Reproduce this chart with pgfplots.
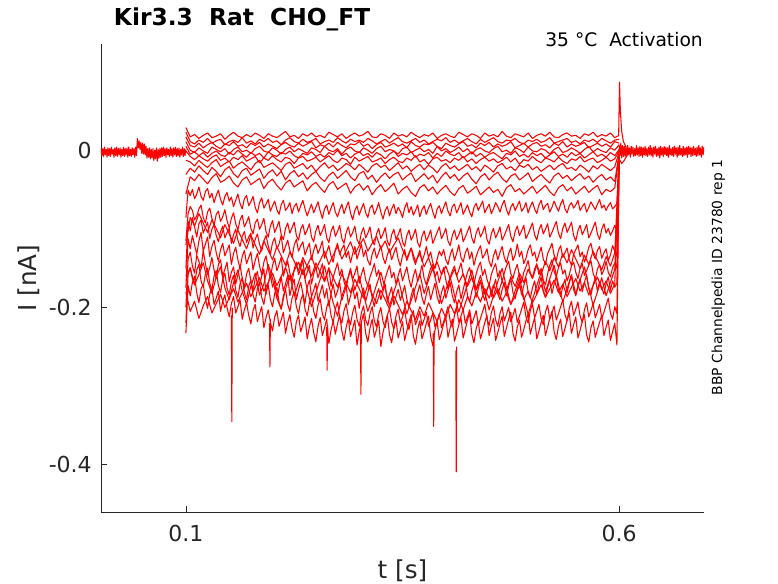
\documentclass[border=0pt]{standalone}
\usepackage{pgfplots}
\pgfplotsset{compat=1.18}
\usepackage{pgfplotstable}
\usepackage{fontspec}
\setmainfont{DejaVu Sans}
\definecolor{axgray}{RGB}{38,38,38}

% baseline before the step (t in ms, I in pA)
\pgfplotstableread{
t v
2 4
3 -6
4 3
5 -7
6 5
7 -5
8 2
9 -8
10 4
11 -6
12 3
13 -7
14 5
15 -4
16 2
17 -8
18 4
19 -6
20 5
21 -7
22 3
23 -5
24 4
25 -8
26 2
27 -6
28 5
29 -7
30 3
31 -5
32 4
33 -8
34 5
35 -6
36 2
37 -7
38 4
39 -5
40 3
41 -8
42 5
43 -6
44 16
45 4
46 13
47 2
48 11
49 -3
50 10
51 -4
52 9
53 -5
54 6
55 -9
56 3
57 -8
58 4
59 -10
60 2
61 -9
62 3
63 -12
64 1
65 -10
66 4
67 -13
68 2
69 -9
70 3
71 -8
72 4
73 -7
74 5
75 -6
76 3
77 -8
78 4
79 -5
80 2
81 -7
82 5
83 -6
84 3
85 -8
86 4
87 -5
88 5
89 -7
90 3
91 -6
92 4
93 -8
94 2
95 -5
96 5
97 -7
98 3
99 -6
100 2
}\prebase

% baseline after the step
\pgfplotstableread{
t v
600 8
601 -6
602 10
603 -9
604 7
605 -7
606 6
607 -7
608 5
609 -6
610 7
611 -5
612 4
613 -8
614 6
615 -4
616 5
617 -7
618 3
619 -6
620 7
621 -5
622 4
623 -7
624 6
625 -6
626 5
627 -8
628 4
629 -5
630 6
631 -6
632 3
633 -7
634 5
635 -5
636 7
637 -6
638 4
639 -8
640 5
641 -4
642 6
643 -7
644 3
645 -6
646 5
647 -9
648 6
649 -5
650 4
651 -7
652 6
653 -5
654 5
655 -6
656 4
657 -8
658 7
659 -5
660 3
661 -6
662 5
663 -7
664 6
665 -4
666 4
667 -8
668 5
669 -6
670 7
671 -5
672 3
673 -7
674 6
675 -6
676 4
677 -5
678 5
679 -8
680 6
681 -4
682 5
683 -7
684 4
685 -6
686 6
687 -5
688 3
689 -7
690 5
691 -6
692 7
693 -5
694 4
695 -8
696 6
697 -5
698 5
}\postbase

\begin{document}
\begin{tikzpicture}[tr/.style={red, line width=0.8pt, line join=round, mark=none}]
\path[use as bounding box] (-75.75pt,-53.25pt) rectangle (507.75pt,384pt);
\begin{axis}[
  at={(0pt,0pt)}, anchor=south west,
  scale only axis, width=452.25pt, height=351pt,
  xmin=0.002, xmax=0.698, ymin=-0.4613, ymax=0.1367,
  axis x line*=bottom, axis y line*=left,
  axis line style={draw=axgray, line width=0.5pt, -},
  xtick={0.1,0.6}, xticklabels={0.1,0.6},
  ytick={-0.4,-0.2,0}, yticklabels={-0.4,-0.2,0\hspace{1.05em}},
  tick align=inside, major tick length=4.5pt,
  tick style={draw=axgray, line width=0.5pt},
  xticklabel style={font=\fontsize{16.5}{18}\selectfont, text=axgray, inner sep=0pt, anchor=north, yshift=-9.75pt},
  yticklabel style={font=\fontsize{16.5}{18}\selectfont, text=axgray, inner sep=0pt, anchor=east, xshift=-6.75pt},
]
\addplot[tr] table[x expr=\thisrow{t}*0.001, y expr=\thisrow{v}*0.001]{\prebase};
\addplot[tr] table[x expr=\thisrow{t}*0.001, y expr=\thisrow{v}*0.001]{\postbase};
% shallow sweeps, sampled every 5 ms from t = 0.1 s (pA)
\addplot[tr] table[row sep=\\, header=false, x expr={0.1+0.005*\coordindex}, y expr={0.001*\thisrowno{0}}]{
30\\
18\\21\\16\\20\\23\\17\\19\\22\\15\\20\\
24\\19\\17\\21\\18\\23\\20\\16\\22\\19\\
17\\21\\25\\18\\20\\16\\22\\19\\23\\18\\
20\\17\\24\\21\\18\\22\\16\\20\\23\\19\\
21\\25\\18\\17\\22\\20\\16\\23\\19\\21\\
18\\24\\20\\17\\21\\19\\23\\16\\20\\22\\
19\\17\\24\\21\\18\\22\\20\\16\\23\\19\\
21\\18\\25\\19\\17\\22\\20\\18\\23\\16\\
20\\22\\19\\24\\18\\17\\21\\23\\19\\20\\
16\\22\\20\\24\\18\\21\\19\\23\\17\\20\\
};
\addplot[tr] table[row sep=\\, header=false, x expr={0.1+0.005*\coordindex}, y expr={0.001*\thisrowno{0}}]{
24\\
12\\9\\14\\11\\16\\10\\13\\15\\8\\12\\
14\\11\\17\\10\\13\\9\\15\\12\\16\\11\\
13\\8\\14\\17\\12\\10\\15\\11\\13\\16\\
9\\12\\14\\11\\17\\13\\10\\15\\12\\14\\
11\\16\\13\\9\\12\\15\\10\\14\\17\\12\\
10\\13\\16\\11\\14\\9\\12\\15\\13\\17\\
11\\14\\10\\13\\16\\12\\9\\15\\11\\14\\
17\\12\\10\\14\\13\\16\\11\\9\\14\\12\\
15\\11\\13\\17\\10\\12\\14\\16\\11\\13\\
9\\14\\12\\15\\11\\16\\13\\10\\14\\15\\
};
\addplot[tr] table[row sep=\\, header=false, x expr={0.1+0.005*\coordindex}, y expr={0.001*\thisrowno{0}}]{
18\\
7\\5\\10\\4\\8\\11\\6\\3\\9\\7\\
12\\6\\8\\4\\10\\7\\11\\5\\9\\6\\
3\\8\\11\\7\\5\\10\\6\\9\\12\\4\\
8\\6\\10\\5\\11\\7\\4\\9\\8\\12\\
6\\9\\3\\8\\11\\5\\7\\10\\6\\9\\
4\\12\\7\\5\\9\\8\\11\\6\\3\\10\\
7\\5\\9\\12\\6\\8\\4\\10\\7\\11\\
5\\9\\6\\8\\12\\4\\7\\10\\5\\9\\
11\\6\\8\\4\\10\\7\\12\\5\\9\\6\\
8\\11\\4\\7\\10\\6\\9\\5\\12\\10\\
};
\addplot[tr] table[row sep=\\, header=false, x expr={0.1+0.005*\coordindex}, y expr={0.001*\thisrowno{0}}]{
12\\
1\\-2\\4\\0\\-3\\5\\2\\-1\\3\\-4\\
2\\5\\-1\\1\\-3\\3\\6\\0\\-2\\4\\
1\\-4\\2\\5\\-1\\3\\0\\-3\\4\\2\\
-2\\6\\1\\-1\\3\\-4\\2\\5\\0\\-2\\
4\\1\\-3\\3\\6\\-1\\2\\0\\-4\\3\\
5\\-2\\1\\4\\-1\\2\\-3\\6\\0\\3\\
-2\\1\\5\\-1\\3\\-4\\2\\4\\0\\-2\\
3\\6\\-1\\1\\-3\\4\\2\\-2\\5\\0\\
-1\\3\\1\\-4\\2\\5\\-2\\0\\4\\1\\
-3\\2\\6\\-1\\3\\0\\-2\\4\\1\\8\\
};
\addplot[tr] table[row sep=\\, header=false, x expr={0.1+0.005*\coordindex}, y expr={0.001*\thisrowno{0}}]{
6\\
-4\\-1\\-6\\-2\\-8\\-3\\0\\-5\\-7\\-2\\
-5\\1\\-4\\-8\\-2\\-6\\-3\\-9\\-1\\-5\\
-7\\-2\\-4\\0\\-6\\-9\\-3\\-5\\-1\\-7\\
-4\\-8\\-2\\-5\\1\\-6\\-3\\-9\\-4\\-1\\
-6\\-3\\-8\\-2\\-5\\-10\\-4\\0\\-7\\-3\\
-5\\-1\\-8\\-4\\-6\\-2\\-9\\-3\\-7\\0\\
-4\\-6\\-2\\-9\\-5\\-1\\-7\\-3\\-8\\-4\\
-2\\-6\\-10\\-3\\-5\\0\\-7\\-4\\-8\\-2\\
-6\\-3\\-9\\-5\\-1\\-7\\-4\\-8\\-2\\-6\\
-3\\-9\\-5\\-1\\-7\\-4\\-8\\-2\\-6\\2\\
};
\addplot[tr] table[row sep=\\, header=false, x expr={0.1+0.005*\coordindex}, y expr={0.001*\thisrowno{0}}]{
0\\
-7\\-11\\-6\\-10\\-13\\-8\\-5\\-12\\-9\\-14\\
-8\\-11\\-6\\-13\\-10\\-7\\-15\\-9\\-12\\-6\\
-11\\-14\\-8\\-10\\-16\\-9\\-7\\-13\\-11\\-8\\
-14\\-10\\-6\\-12\\-15\\-9\\-11\\-17\\-8\\-13\\
-10\\-7\\-14\\-12\\-9\\-16\\-11\\-8\\-13\\-15\\
-9\\-12\\-6\\-14\\-11\\-17\\-10\\-8\\-13\\-11\\
-15\\-9\\-12\\-7\\-14\\-10\\-16\\-11\\-8\\-13\\
-10\\-15\\-12\\-8\\-14\\-9\\-17\\-11\\-13\\-7\\
-12\\-15\\-9\\-11\\-14\\-8\\-13\\-16\\-10\\-12\\
-7\\-14\\-11\\-9\\-15\\-12\\-8\\-13\\-10\\0\\
};
\addplot[tr] table[row sep=\\, header=false, x expr={0.1+0.005*\coordindex}, y expr={0.001*\thisrowno{0}}]{
-12\\
-14\\-19\\-12\\-17\\-21\\-15\\-11\\-20\\-16\\-13\\
-22\\-17\\-14\\-19\\-24\\-16\\-12\\-21\\-18\\-15\\
-20\\-25\\-17\\-14\\-22\\-19\\-16\\-23\\-18\\-26\\
-20\\-15\\-22\\-18\\-25\\-21\\-16\\-19\\-24\\-17\\
-22\\-27\\-19\\-16\\-21\\-18\\-25\\-20\\-15\\-23\\
-19\\-26\\-21\\-17\\-24\\-18\\-22\\-28\\-20\\-16\\
-23\\-19\\-25\\-21\\-17\\-24\\-20\\-26\\-18\\-22\\
-27\\-19\\-16\\-23\\-20\\-25\\-18\\-21\\-17\\-24\\
-20\\-26\\-22\\-18\\-24\\-19\\-16\\-23\\-21\\-25\\
-18\\-22\\-27\\-19\\-23\\-17\\-21\\-25\\-20\\-2\\
};
\addplot[tr] table[row sep=\\, header=false, x expr={0.1+0.005*\coordindex}, y expr={0.001*\thisrowno{0}}]{
-30\\
-22\\-27\\-19\\-25\\-30\\-21\\-26\\-33\\-24\\-20\\
-29\\-34\\-25\\-22\\-31\\-27\\-23\\-35\\-28\\-24\\
-32\\-26\\-37\\-29\\-25\\-33\\-28\\-36\\-30\\-26\\
-34\\-39\\-31\\-27\\-35\\-30\\-25\\-33\\-38\\-29\\
-26\\-36\\-31\\-40\\-33\\-28\\-35\\-30\\-27\\-37\\
-32\\-28\\-39\\-34\\-29\\-36\\-31\\-41\\-33\\-27\\
-35\\-30\\-38\\-32\\-28\\-36\\-42\\-33\\-29\\-37\\
-31\\-27\\-35\\-40\\-32\\-29\\-37\\-33\\-28\\-39\\
-34\\-30\\-36\\-41\\-32\\-28\\-35\\-31\\-38\\-33\\
-29\\-36\\-32\\-40\\-34\\-30\\-37\\-33\\-39\\-4\\
};
\addplot[tr] table[row sep=\\, header=false, x expr={0.1+0.005*\coordindex}, y expr={0.001*\thisrowno{0}}]{
-55\\
-33\\-38\\-30\\-36\\-42\\-34\\-29\\-40\\-37\\-32\\
-41\\-46\\-37\\-33\\-43\\-39\\-35\\-48\\-40\\-36\\
-44\\-50\\-41\\-37\\-46\\-42\\-38\\-51\\-44\\-40\\
-47\\-53\\-43\\-39\\-49\\-45\\-41\\-54\\-46\\-42\\
-50\\-44\\-56\\-48\\-43\\-52\\-47\\-41\\-55\\-49\\
-45\\-53\\-58\\-47\\-43\\-51\\-46\\-55\\-49\\-44\\
-52\\-57\\-48\\-44\\-54\\-50\\-45\\-56\\-51\\-46\\
-53\\-49\\-58\\-47\\-43\\-52\\-48\\-55\\-50\\-45\\
-54\\-49\\-44\\-52\\-57\\-47\\-43\\-51\\-46\\-55\\
-50\\-45\\-53\\-48\\-44\\-56\\-49\\-52\\-47\\-5\\
};
% sweeps that wander strongly, sampled every 5 ms (pA)
\addplot[tr] table[row sep=\\, header=false, x expr={0.1+0.005*\coordindex}, y expr={0.001*\thisrowno{0}}]{
-180\\
-205\\-192\\-214\\-198\\-186\\-207\\-195\\-183\\-200\\-188\\
-176\\-193\\-181\\-169\\-186\\-174\\-162\\-179\\-168\\-156\\
-172\\-160\\-149\\-165\\-153\\-142\\-158\\-146\\-135\\-151\\
-140\\-128\\-145\\-133\\-122\\-138\\-127\\-116\\-132\\-121\\
-112\\-128\\-118\\-109\\-125\\-115\\-130\\-120\\-111\\-126\\
-137\\-124\\-141\\-131\\-148\\-136\\-153\\-142\\-158\\-147\\
-163\\-151\\-168\\-157\\-173\\-161\\-178\\-166\\-183\\-171\\
-188\\-176\\-192\\-181\\-196\\-185\\-172\\-190\\-179\\-194\\
-183\\-171\\-187\\-176\\-165\\-181\\-170\\-186\\-174\\-163\\
-179\\-168\\-184\\-172\\-161\\-177\\-166\\-182\\-170\\-6\\
};
\addplot[tr] table[row sep=\\, header=false, x expr={0.1+0.005*\coordindex}, y expr={0.001*\thisrowno{0}}]{
-120\\
-85\\-96\\-80\\-92\\-104\\-88\\-99\\-111\\-94\\-106\\
-118\\-101\\-113\\-125\\-108\\-120\\-132\\-115\\-127\\-139\\
-122\\-134\\-146\\-129\\-141\\-153\\-136\\-148\\-160\\-143\\
-155\\-167\\-150\\-162\\-174\\-157\\-169\\-181\\-164\\-176\\
-188\\-171\\-183\\-195\\-178\\-190\\-202\\-185\\-197\\-209\\
-192\\-204\\-216\\-199\\-211\\-194\\-206\\-218\\-201\\-213\\
-196\\-208\\-190\\-203\\-186\\-198\\-181\\-193\\-176\\-188\\
-171\\-183\\-166\\-178\\-161\\-173\\-156\\-168\\-151\\-163\\
-146\\-158\\-141\\-153\\-136\\-148\\-131\\-143\\-126\\-138\\
-150\\-133\\-145\\-128\\-140\\-152\\-135\\-147\\-130\\-8\\
};
\addplot[tr] table[row sep=\\, header=false, x expr={0.1+0.005*\coordindex}, y expr={0.001*\thisrowno{0}}]{
-160\\
-150\\-171\\-158\\-143\\-166\\-182\\-161\\-148\\-175\\-190\\
-168\\-152\\-179\\-196\\-173\\-156\\-184\\-170\\-145\\-163\\
-188\\-202\\-176\\-159\\-185\\-168\\-151\\-177\\-199\\-181\\
-164\\-147\\-172\\-194\\-211\\-186\\-169\\-153\\-178\\-160\\
-183\\-205\\-189\\-171\\-155\\-176\\-198\\-180\\-163\\-186\\
-208\\-191\\-174\\-157\\-182\\-165\\-149\\-173\\-195\\-178\\
-161\\-184\\-206\\-188\\-170\\-152\\-177\\-159\\-181\\-203\\
-185\\-167\\-150\\-174\\-196\\-179\\-162\\-187\\-209\\-190\\
-172\\-155\\-180\\-163\\-146\\-171\\-193\\-176\\-158\\-183\\
-165\\-148\\-174\\-197\\-180\\-162\\-185\\-168\\-151\\-10\\
};
% deeper sweeps, sampled every 2.5 ms from t = 0.1 s (pA)
\addplot[tr] table[row sep=\\, header=false, x expr={0.1+0.0025*\coordindex}, y expr={0.001*\thisrowno{0}}]{
-85\\
-50\\-57\\-49\\-61\\-55\\-46\\-58\\-63\\-52\\-48\\
-60\\-54\\-66\\-57\\-50\\-62\\-69\\-58\\-53\\-64\\
-59\\-71\\-63\\-55\\-67\\-74\\-61\\-57\\-70\\-65\\
-58\\-72\\-79\\-66\\-60\\-73\\-68\\-62\\-77\\-70\\
-64\\-75\\-81\\-69\\-63\\-76\\-72\\-66\\-80\\-71\\
-67\\-78\\-70\\-63\\-74\\-83\\-75\\-68\\-79\\-72\\
-65\\-77\\-86\\-74\\-69\\-81\\-73\\-66\\-78\\-84\\
-75\\-68\\-80\\-72\\-65\\-79\\-88\\-76\\-70\\-82\\
-74\\-67\\-79\\-85\\-73\\-69\\-81\\-75\\-66\\-78\\
-87\\-76\\-71\\-83\\-74\\-68\\-80\\-72\\-77\\-85\\
-73\\-66\\-79\\-71\\-82\\-76\\-69\\-84\\-75\\-70\\
-81\\-73\\-67\\-78\\-86\\-74\\-70\\-80\\-72\\-65\\
-77\\-83\\-71\\-68\\-79\\-73\\-66\\-81\\-75\\-69\\
-78\\-84\\-72\\-67\\-76\\-70\\-64\\-79\\-73\\-68\\
-80\\-74\\-66\\-71\\-78\\-69\\-63\\-75\\-82\\-72\\
-67\\-76\\-70\\-64\\-77\\-73\\-66\\-79\\-71\\-65\\
-74\\-80\\-69\\-63\\-75\\-70\\-67\\-78\\-72\\-64\\
-71\\-77\\-68\\-62\\-74\\-79\\-70\\-66\\-73\\-69\\
-63\\-76\\-71\\-67\\-78\\-72\\-65\\-70\\-75\\-68\\
-62\\-73\\-69\\-76\\-70\\-66\\-74\\-71\\-67\\-5\\
};
\addplot[tr] table[row sep=\\, header=false, x expr={0.1+0.0025*\coordindex}, y expr={0.001*\thisrowno{0}}]{
-115\\
-80\\-71\\-76\\-88\\-83\\-74\\-69\\-85\\-92\\-78\\
-73\\-86\\-95\\-81\\-77\\-90\\-84\\-75\\-89\\-98\\
-86\\-79\\-93\\-101\\-88\\-82\\-97\\-91\\-84\\-99\\
-106\\-92\\-87\\-100\\-94\\-86\\-103\\-110\\-96\\-89\\
-104\\-97\\-90\\-107\\-113\\-99\\-92\\-105\\-98\\-91\\
-108\\-114\\-100\\-94\\-107\\-101\\-93\\-110\\-116\\-102\\
-95\\-108\\-102\\-94\\-111\\-117\\-103\\-96\\-109\\-103\\
-95\\-112\\-118\\-104\\-97\\-110\\-104\\-96\\-113\\-119\\
-105\\-98\\-111\\-105\\-97\\-114\\-120\\-106\\-99\\-112\\
-106\\-98\\-115\\-121\\-107\\-100\\-113\\-107\\-99\\-116\\
-122\\-108\\-101\\-114\\-108\\-100\\-117\\-123\\-109\\-102\\
-115\\-109\\-101\\-118\\-111\\-104\\-97\\-112\\-106\\-99\\
-115\\-121\\-108\\-101\\-113\\-107\\-99\\-116\\-110\\-103\\
-96\\-111\\-118\\-105\\-98\\-110\\-104\\-96\\-113\\-119\\
-106\\-99\\-111\\-105\\-97\\-114\\-108\\-101\\-94\\-109\\
-116\\-103\\-96\\-108\\-102\\-95\\-112\\-106\\-99\\-92\\
-107\\-114\\-101\\-94\\-106\\-100\\-93\\-110\\-104\\-97\\
-90\\-105\\-112\\-99\\-92\\-104\\-98\\-91\\-108\\-115\\
-102\\-95\\-107\\-101\\-94\\-111\\-105\\-98\\-91\\-106\\
-113\\-100\\-93\\-105\\-99\\-108\\-102\\-95\\-104\\-5\\
};
\addplot[tr] table[row sep=\\, header=false, x expr={0.1+0.0025*\coordindex}, y expr={0.001*\thisrowno{0}}]{
-150\\
-90\\-102\\-85\\-97\\-110\\-93\\-88\\-105\\-98\\-91\\
-112\\-100\\-94\\-108\\-116\\-103\\-96\\-111\\-104\\-99\\
-118\\-107\\-100\\-114\\-122\\-109\\-103\\-117\\-110\\-105\\
-124\\-113\\-106\\-119\\-128\\-115\\-108\\-121\\-132\\-117\\
-111\\-125\\-119\\-108\\-130\\-122\\-114\\-127\\-136\\-120\\
-113\\-128\\-121\\-116\\-133\\-125\\-118\\-139\\-127\\-119\\
-131\\-124\\-115\\-137\\-129\\-121\\-134\\-142\\-126\\-118\\
-132\\-125\\-120\\-136\\-128\\-143\\-131\\-122\\-138\\-129\\
-119\\-135\\-127\\-140\\-146\\-132\\-124\\-137\\-130\\-121\\
-136\\-144\\-133\\-125\\-139\\-131\\-123\\-138\\-147\\-134\\
-126\\-140\\-132\\-124\\-137\\-145\\-135\\-127\\-141\\-133\\
-122\\-136\\-129\\-143\\-150\\-138\\-128\\-134\\-126\\-139\\
-145\\-133\\-125\\-140\\-131\\-120\\-136\\-142\\-130\\-124\\
-138\\-129\\-146\\-135\\-127\\-121\\-137\\-132\\-125\\-141\\
-148\\-134\\-126\\-139\\-130\\-122\\-136\\-143\\-131\\-124\\
-140\\-133\\-119\\-135\\-128\\-144\\-137\\-126\\-120\\-134\\
-129\\-141\\-132\\-123\\-138\\-145\\-131\\-125\\-118\\-133\\
-140\\-127\\-121\\-136\\-130\\-124\\-139\\-146\\-132\\-126\\
-120\\-135\\-129\\-142\\-134\\-123\\-118\\-131\\-138\\-127\\
-122\\-137\\-130\\-125\\-140\\-133\\-121\\-128\\-135\\-8\\
};
\addplot[tr] table[row sep=\\, header=false, x expr={0.1+0.0025*\coordindex}, y expr={0.001*\thisrowno{0}}]{
-175\\
-112\\-125\\-108\\-120\\-132\\-115\\-104\\-128\\-119\\-110\\
-135\\-122\\-114\\-130\\-141\\-126\\-118\\-134\\-127\\-120\\
-145\\-131\\-123\\-139\\-150\\-135\\-127\\-144\\-136\\-129\\
-152\\-140\\-131\\-147\\-158\\-142\\-134\\-150\\-162\\-146\\
-137\\-153\\-145\\-136\\-160\\-149\\-141\\-156\\-168\\-151\\
-142\\-158\\-150\\-139\\-163\\-155\\-146\\-170\\-157\\-148\\
-162\\-153\\-144\\-166\\-158\\-149\\-173\\-161\\-152\\-143\\
-159\\-151\\-167\\-176\\-160\\-150\\-164\\-156\\-147\\-169\\
-158\\-149\\-165\\-172\\-161\\-153\\-144\\-160\\-152\\-168\\
-178\\-163\\-154\\-146\\-162\\-155\\-170\\-159\\-150\\-166\\
-157\\-148\\-164\\-174\\-160\\-151\\-167\\-158\\-146\\-163\\
-171\\-159\\-150\\-145\\-161\\-154\\-168\\-157\\-149\\-165\\
-176\\-162\\-153\\-147\\-160\\-152\\-143\\-158\\-166\\-155\\
-149\\-163\\-170\\-157\\-148\\-142\\-159\\-151\\-164\\-172\\
-158\\-150\\-144\\-161\\-153\\-167\\-156\\-147\\-141\\-157\\
-163\\-152\\-145\\-160\\-168\\-155\\-148\\-140\\-156\\-162\\
-151\\-144\\-158\\-150\\-165\\-171\\-157\\-146\\-139\\-154\\
-161\\-149\\-143\\-157\\-152\\-166\\-158\\-147\\-142\\-155\\
-163\\-150\\-144\\-159\\-153\\-146\\-140\\-156\\-164\\-151\\
-145\\-158\\-152\\-141\\-155\\-161\\-149\\-143\\-150\\-10\\
};
\addplot[tr] table[row sep=\\, header=false, x expr={0.1+0.0025*\coordindex}, y expr={0.001*\thisrowno{0}}]{
-200\\
-138\\-129\\-147\\-156\\-133\\-141\\-150\\-127\\-144\\-158\\
-149\\-136\\-152\\-163\\-145\\-139\\-160\\-151\\-142\\-167\\
-155\\-148\\-170\\-158\\-146\\-162\\-175\\-157\\-150\\-166\\
-178\\-163\\-154\\-172\\-160\\-151\\-183\\-169\\-158\\-174\\
-166\\-188\\-175\\-161\\-179\\-170\\-159\\-185\\-172\\-164\\
-190\\-177\\-168\\-182\\-195\\-174\\-165\\-186\\-178\\-169\\
-192\\-181\\-171\\-188\\-176\\-198\\-183\\-170\\-187\\-179\\
-168\\-191\\-182\\-173\\-196\\-185\\-174\\-189\\-180\\-201\\
-186\\-175\\-192\\-181\\-170\\-188\\-199\\-184\\-176\\-190\\
-179\\-170\\-193\\-183\\-174\\-197\\-186\\-177\\-191\\-182\\
-172\\-189\\-200\\-185\\-175\\-193\\-181\\-171\\-187\\-196\\
-183\\-173\\-190\\-179\\-169\\-186\\-195\\-181\\-172\\-188\\
-178\\-168\\-185\\-194\\-180\\-171\\-189\\-177\\-166\\-184\\
-193\\-179\\-170\\-187\\-176\\-165\\-183\\-191\\-178\\-169\\
-186\\-174\\-164\\-182\\-190\\-177\\-168\\-185\\-173\\-163\\
-181\\-189\\-176\\-167\\-184\\-172\\-162\\-180\\-188\\-175\\
-166\\-183\\-171\\-161\\-179\\-187\\-174\\-165\\-182\\-170\\
-160\\-178\\-186\\-173\\-164\\-181\\-169\\-159\\-177\\-185\\
-172\\-163\\-180\\-168\\-158\\-176\\-184\\-171\\-162\\-179\\
-167\\-175\\-183\\-170\\-161\\-178\\-166\\-174\\-169\\-12\\
};
\addplot[tr] table[row sep=\\, header=false, x expr={0.1+0.0025*\coordindex}, y expr={0.001*\thisrowno{0}}]{
-220\\
-158\\-149\\-163\\-171\\-152\\-145\\-166\\-174\\-157\\-150\\
-169\\-178\\-160\\-153\\-172\\-181\\-164\\-156\\-175\\-184\\
-167\\-159\\-178\\-187\\-170\\-162\\-181\\-190\\-173\\-165\\
-184\\-193\\-176\\-168\\-187\\-196\\-179\\-171\\-190\\-199\\
-182\\-174\\-193\\-202\\-185\\-177\\-196\\-205\\-188\\-180\\
-199\\-208\\-191\\-183\\-202\\-211\\-194\\-186\\-205\\-214\\
-197\\-189\\-208\\-216\\-200\\-191\\-210\\-219\\-202\\-193\\
-212\\-220\\-204\\-195\\-213\\-222\\-206\\-197\\-215\\-224\\
-207\\-198\\-216\\-223\\-208\\-199\\-217\\-225\\-209\\-200\\
-218\\-226\\-210\\-201\\-219\\-227\\-211\\-202\\-220\\-212\\
-203\\-221\\-228\\-213\\-204\\-222\\-214\\-205\\-223\\-215\\
-206\\-224\\-216\\-207\\-225\\-217\\-208\\-226\\-218\\-209\\
-199\\-217\\-225\\-210\\-201\\-219\\-211\\-202\\-220\\-212\\
-203\\-221\\-213\\-204\\-222\\-214\\-205\\-196\\-215\\-223\\
-207\\-198\\-216\\-224\\-208\\-199\\-217\\-209\\-200\\-218\\
-210\\-201\\-219\\-211\\-202\\-193\\-212\\-220\\-204\\-195\\
-213\\-205\\-196\\-214\\-222\\-206\\-197\\-215\\-207\\-198\\
-216\\-208\\-199\\-190\\-209\\-217\\-201\\-192\\-210\\-202\\
-193\\-211\\-219\\-203\\-194\\-212\\-204\\-195\\-213\\-205\\
-196\\-214\\-206\\-197\\-188\\-207\\-215\\-199\\-208\\-15\\
};
\addplot[tr] table[row sep=\\, header=false, x expr={0.1+0.0025*\coordindex}, y expr={0.001*\thisrowno{0}}]{
-233\\
-172\\-185\\-168\\-160\\-181\\-194\\-176\\-170\\-189\\-201\\
-183\\-175\\-196\\-188\\-179\\-205\\-192\\-184\\-200\\-212\\
-195\\-186\\-207\\-199\\-190\\-215\\-203\\-194\\-210\\-221\\
-204\\-196\\-218\\-208\\-199\\-226\\-213\\-203\\-219\\-230\\
-212\\-204\\-224\\-216\\-206\\-233\\-219\\-209\\-227\\-238\\
-218\\-210\\-231\\-222\\-212\\-240\\-225\\-214\\-232\\-244\\
-224\\-213\\-236\\-226\\-215\\-246\\-229\\-217\\-234\\-221\\
-209\\-230\\-242\\-225\\-214\\-237\\-227\\-216\\-248\\-231\\
-219\\-208\\-233\\-244\\-226\\-215\\-238\\-228\\-217\\-250\\
-232\\-220\\-210\\-235\\-245\\-227\\-216\\-239\\-229\\-218\\
-242\\-230\\-219\\-209\\-236\\-247\\-228\\-217\\-240\\-231\\
-220\\-211\\-237\\-249\\-229\\-218\\-241\\-232\\-221\\-212\\
-238\\-226\\-215\\-243\\-233\\-222\\-213\\-239\\-228\\-216\\
-207\\-234\\-245\\-227\\-218\\-240\\-230\\-219\\-210\\-236\\
-224\\-214\\-242\\-232\\-221\\-211\\-237\\-226\\-215\\-206\\
-233\\-243\\-225\\-216\\-238\\-228\\-217\\-208\\-234\\-223\\
-213\\-240\\-230\\-219\\-210\\-236\\-225\\-214\\-205\\-231\\
-241\\-224\\-215\\-237\\-227\\-216\\-207\\-233\\-222\\-212\\
-239\\-229\\-218\\-209\\-235\\-244\\-226\\-217\\-238\\-228\\
-219\\-210\\-236\\-225\\-216\\-242\\-231\\-220\\-248\\-15\\
};
% brief spikes of single sweeps (nA)
\addplot[tr] coordinates {(0.1525,-0.210) (0.153,-0.346) (0.1535,-0.200)};
\addplot[tr] coordinates {(0.1965,-0.220) (0.197,-0.276) (0.1975,-0.215)};
\addplot[tr] coordinates {(0.2625,-0.225) (0.263,-0.280) (0.2635,-0.222)};
\addplot[tr] coordinates {(0.3015,-0.222) (0.302,-0.311) (0.3025,-0.218)};
\addplot[tr] coordinates {(0.3855,-0.233) (0.386,-0.352) (0.3865,-0.230)};
\addplot[tr] coordinates {(0.4115,-0.255) (0.412,-0.410) (0.4125,-0.250)};
% tail transients at the end of the step (nA)
\addplot[tr] coordinates {(0.5995,0.020) (0.6005,0.088) (0.6015,0.050) (0.603,0.025) (0.605,0.012) (0.608,0.005)};
\addplot[tr] coordinates {(0.600,-0.010) (0.603,-0.016) (0.606,-0.012) (0.610,-0.004)};
\end{axis}
\node[anchor=base west, inner sep=0pt, font=\bfseries\fontsize{17.5}{20}\selectfont] at (9.5pt,364.5pt) {Kir3.3\ \ Rat\ \ CHO\_FT};
\node[anchor=base east, inner sep=0pt, font=\fontsize{14}{16}\selectfont] at (451.5pt,348.75pt) {35 °C\ \ Activation};
\node[rotate=90, anchor=base, inner sep=0pt, font=\fontsize{10.4}{12}\selectfont] at (465.75pt,175.9pt) {BBP Channelpedia ID 23780 rep 1};
\node[anchor=base, inner sep=0pt, text=axgray, font=\fontsize{18.5}{20}\selectfont] at (226.1pt,-49.5pt) {t [s]};
\node[rotate=90, anchor=base, inner sep=0pt, text=axgray, font=\fontsize{18.5}{20}\selectfont] at (-48.2pt,175.5pt) {I [nA]};
\end{tikzpicture}
\end{document}
